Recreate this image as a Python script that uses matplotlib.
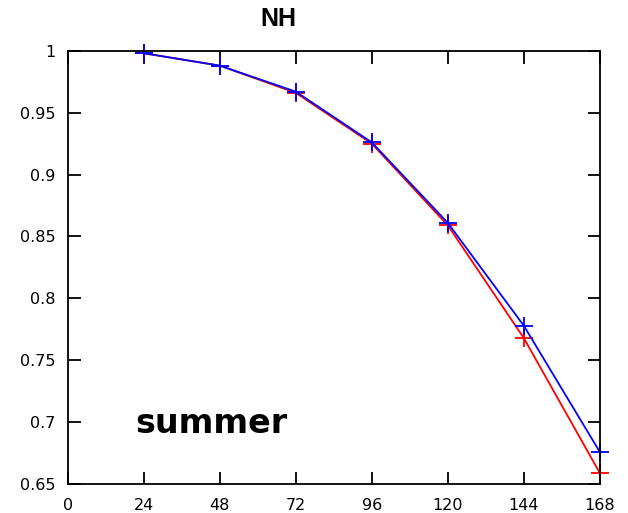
import matplotlib
matplotlib.use("Agg")
import matplotlib.pyplot as plt

# Forecast lead time (hours) and anomaly correlation for the two runs
lead_hours = [24, 48, 72, 96, 120, 144, 168]
score_blue = [0.998, 0.988, 0.967, 0.926, 0.861, 0.778, 0.676]
score_red = [0.998, 0.988, 0.966, 0.925, 0.859, 0.768, 0.659]

x_ticks = [0, 24, 48, 72, 96, 120, 144, 168]
y_ticks = [0.65, 0.7, 0.75, 0.8, 0.85, 0.9, 0.95, 1.0]
y_tick_labels = ["0.65", "0.7", "0.75", "0.8", "0.85", "0.9", "0.95", "1"]

fig = plt.figure(figsize=(6.28, 5.13), dpi=100)
ax = fig.add_axes([0.108, 0.0565, 0.847, 0.8445])

ax.plot(lead_hours, score_red, color="red", lw=1.3, marker="+", ms=13, mew=1.3,
        clip_on=False)
ax.plot(lead_hours, score_blue, color="blue", lw=1.3, marker="+", ms=13, mew=1.3,
        clip_on=False)

ax.set_xlim(0, 168)
ax.set_ylim(0.65, 1.0)
ax.set_xticks(x_ticks)
ax.set_xticklabels([str(t) for t in x_ticks])
ax.set_yticks(y_ticks)
ax.set_yticklabels(y_tick_labels)

ax.tick_params(direction="in", length=9, width=1.3, top=True, right=True,
               labelsize=11.5)
ax.tick_params(axis="y", pad=9)
ax.tick_params(axis="x", pad=10)
for lab in ax.get_xticklabels() + ax.get_yticklabels():
    lab.set_fontfamily("DejaVu Sans")
for sp in ax.spines.values():
    sp.set_linewidth(1.3)

fig.text(278 / 628, 1 - 19 / 513, "NH", fontsize=18, fontweight="bold",
         family="Liberation Sans", ha="center", va="center")

ax.text(21.2, 0.699, "summer", fontsize=24, fontweight="bold",
        family="DejaVu Sans", va="center", ha="left")

fig.savefig("out.png", dpi=100)
